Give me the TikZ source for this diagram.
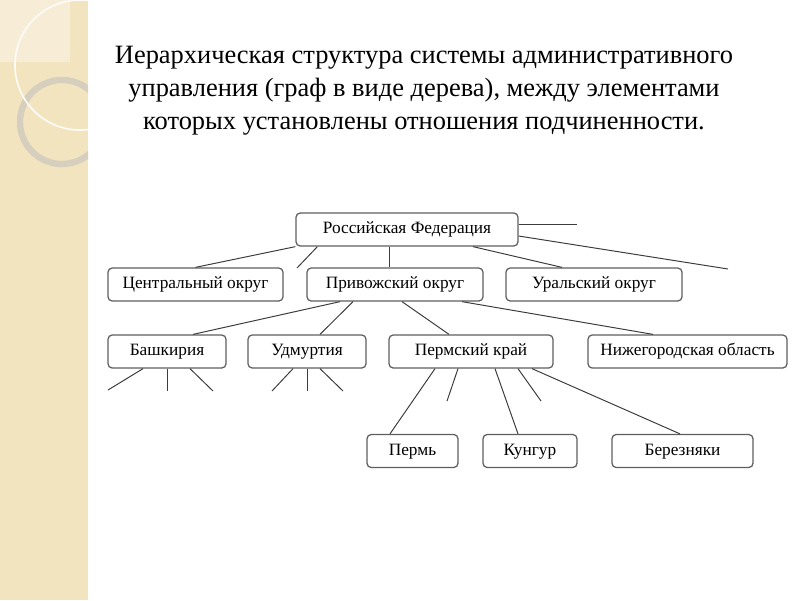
\documentclass[tikz,border=0pt]{standalone}
\usepackage{fontspec}
\setmainfont{Liberation Serif}
\usetikzlibrary{positioning}
\usetikzlibrary{calc}

\definecolor{stripbg}{RGB}{243,228,192}
\definecolor{stripsq}{RGB}{247,237,215}
\definecolor{ringc}{RGB}{215,207,190}
\definecolor{boxline}{RGB}{95,95,95}
\definecolor{edgeline}{RGB}{60,60,60}

\begin{document}
\begin{tikzpicture}[
    x=0.025cm, y=-0.025cm,
    font=\fontsize{12.3}{15}\selectfont
]
\tikzset{
    orgbox/.style = {rectangle, rounded corners=3pt, draw=boxline, line width=0.9pt,
                     fill=white, minimum height=0.825cm, inner sep=0pt,
                     text height=9pt, text depth=3pt,
                     minimum width=#1*0.025cm},
    titletext/.style = {align=center, inner sep=0pt, font=\fontsize{18.8}{23.6}\selectfont},
    edgen/.style = {-, edgeline, line width=0.7pt}
}
\useasboundingbox (0,0) rectangle (800,600);

% left strip of the slide
\fill[stripbg] (0,0) rectangle (88,600);
\fill[stripsq] (0,0) rectangle (70,62);
\begin{scope}
\clip (0,0) rectangle (88,600);
\draw[ringc, line width=0.16cm] (62,122) circle [radius=1.05cm];
\draw[white!90!stripbg, line width=0.04cm] (80,65) circle [radius=1.625cm];
\end{scope}

% title
\node[titletext, anchor=north] (title) at (424,46)
    {Иерархическая структура системы административного\\
     управления (граф в виде дерева), между элементами\\
     которых установлены отношения подчиненности.};

% tree
\node[orgbox=222] at (407,229.5) (rf) {Российская Федерация};
\node[orgbox=175] at (195.5,284.5) (cfd) {Центральный округ};
\node[orgbox=176] at (395,284.5) (pfd) {Привожский округ};
\node[orgbox=176] at (594,284.5) (ufd) {Уральский округ};
\node[orgbox=118] at (167,351.5) (bash) {Башкирия};
\node[orgbox=118] at (307,351.5) (udm) {Удмуртия};
\node[orgbox=164] at (471,351.5) (pk) {Пермский край};
\node[orgbox=199] at (687.5,351.5) (nn) {Нижегородская область};
\node[orgbox=91] at (412.5,451) (perm) {Пермь};
\node[orgbox=94] at (530,451) (kung) {Кунгур};
\node[orgbox=141] at (682.5,451) (berez) {Березняки};

% free ends
\coordinate (f1) at (297,268);
\coordinate (f2) at (577,224);
\coordinate (f3) at (728,269);
\coordinate (b1) at (108,390);
\coordinate (b2) at (167,391);
\coordinate (b3) at (213,391);
\coordinate (u1) at (272,391);
\coordinate (u2) at (307,391);
\coordinate (u3) at (343,391);
\coordinate (p1) at (447,401);
\coordinate (p2) at (541,401);

\draw[edgen] (rf.south west) -- (cfd.north);
\draw[edgen] ($(rf.south west)+(22,0)$) -- (f1);
\draw[edgen] ($(rf.south)+(-18,0)$) -- ($(pfd.north)+(-6,0)$);
\draw[edgen] ($(rf.south)+(66,0)$) -- ($(ufd.north)+(-32,0)$);
\draw[edgen] ($(rf.east)+(0,-5.5)$) -- (f2);
\draw[edgen] ($(rf.east)+(0,6.5)$) -- (f3);

\draw[edgen] ($(pfd.south)+(-55,0)$) -- ($(bash.north)+(26,0)$);
\draw[edgen] ($(pfd.south)+(-42,0)$) -- ($(udm.north)+(13,0)$);
\draw[edgen] ($(pfd.south)+(7,0)$) -- ($(pk.north)+(-22,0)$);
\draw[edgen] ($(pfd.south)+(67,0)$) -- ($(nn.north)+(-34.5,0)$);

\draw[edgen] ($(bash.south)+(-24,0)$) -- (b1);
\draw[edgen] (bash.south) -- (b2);
\draw[edgen] ($(bash.south)+(23,0)$) -- (b3);
\draw[edgen] ($(udm.south)+(-14,0)$) -- (u1);
\draw[edgen] (udm.south) -- (u2);
\draw[edgen] ($(udm.south)+(13,0)$) -- (u3);

\draw[edgen] ($(pk.south)+(-36,0)$) -- ($(perm.north)+(-22.5,0)$);
\draw[edgen] ($(pk.south)+(-13,0)$) -- (p1);
\draw[edgen] ($(pk.south)+(24,0)$) -- ($(kung.north)+(-12,0)$);
\draw[edgen] ($(pk.south)+(47,0)$) -- (p2);
\draw[edgen] ($(pk.south)+(61,0)$) -- ($(berez.north)+(-2.5,0)$);
\end{tikzpicture}
\end{document}
